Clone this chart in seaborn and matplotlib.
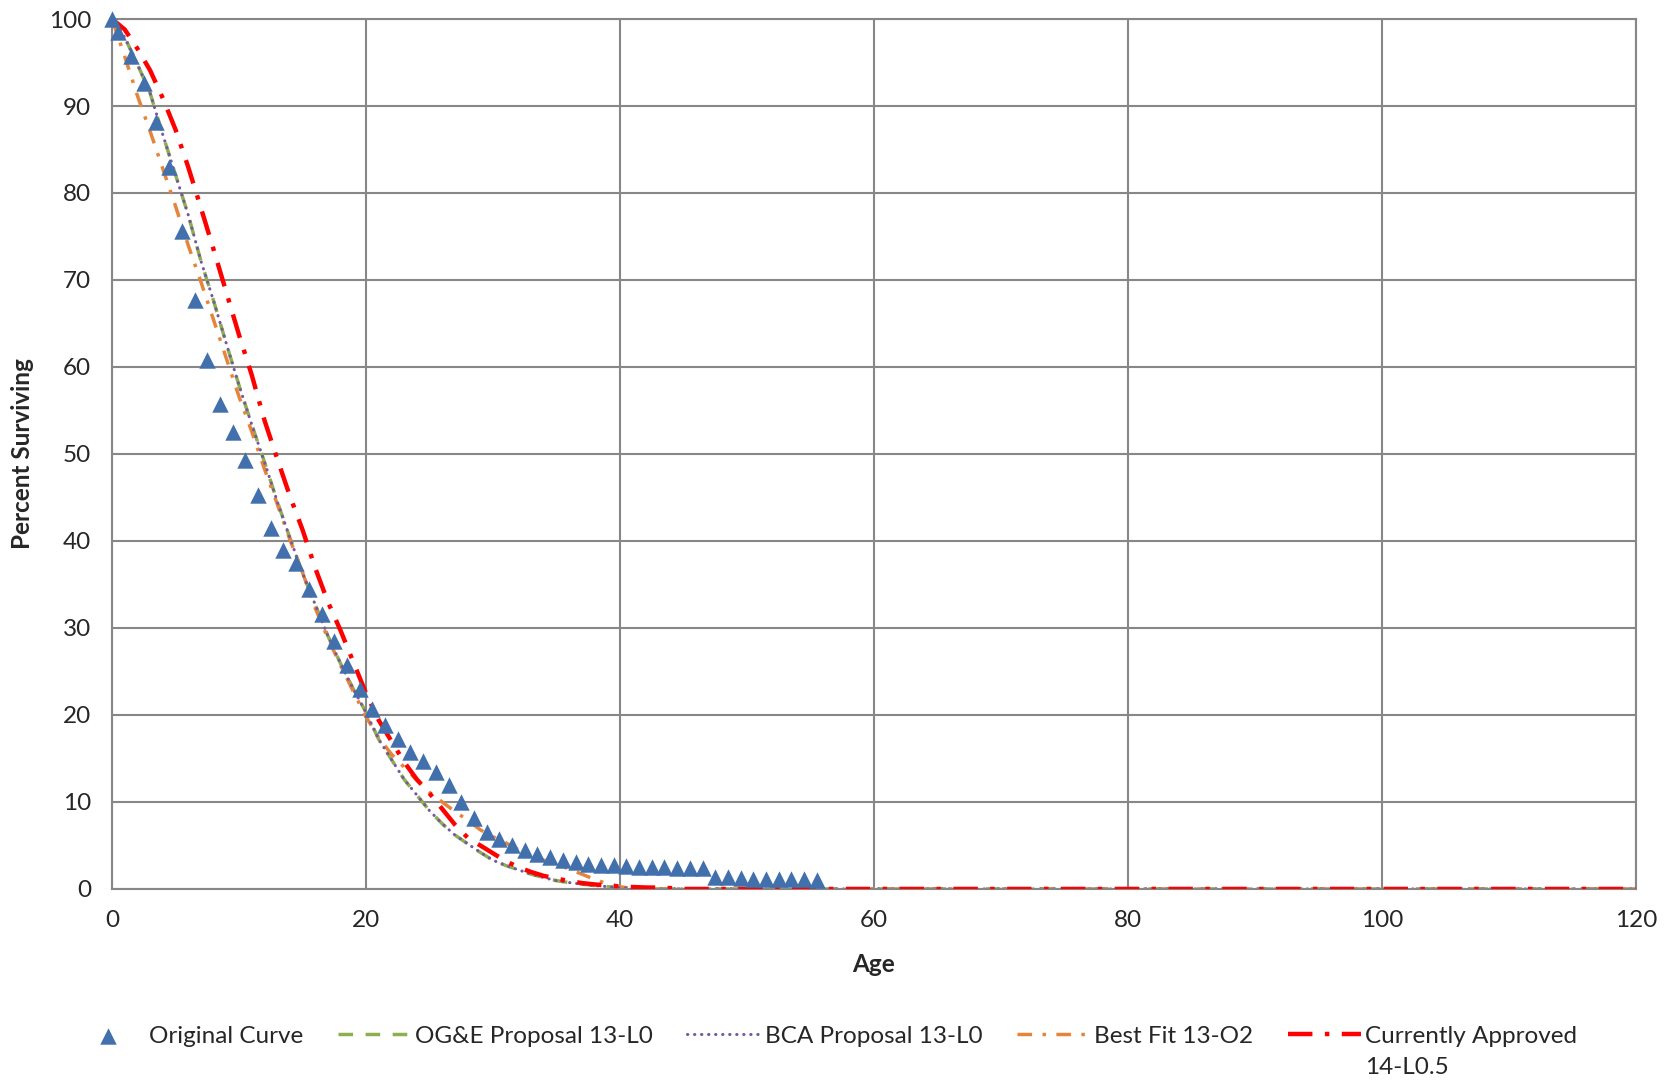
import numpy as np
import matplotlib
matplotlib.use("Agg")
import matplotlib.pyplot as plt
import seaborn as sns

# ---- data ----
# observed (original) survivor curve, ages 0, 0.5, 1.5, ... 55.5
orig_ages = np.concatenate([[0], np.arange(0.5, 56, 1.0)])
orig_pct = [100, 98.5, 95.8, 92.7, 88.2, 83.0, 75.6, 67.7, 60.8, 55.7,
            52.5, 49.3, 45.3, 41.5, 39.0, 37.5, 34.5, 31.6, 28.5, 25.7,
            23.0, 20.7, 18.8, 17.2, 15.7, 14.7, 13.4, 11.9, 10.0, 8.2,
            6.6, 5.7, 5.1, 4.5, 4.0, 3.7, 3.3, 3.1, 2.9, 2.8,
            2.75, 2.6, 2.55, 2.5, 2.5, 2.45, 2.45, 2.4, 1.35, 1.33,
            1.3, 1.2, 1.2, 1.15, 1.1, 1.1, 1.03]

# fitted Iowa curves, ages 0..45 then flat to 120
curve_ages = list(range(46)) + [120]
oge_13l0 = [100, 97.9, 94.8, 91.5, 86.7, 82.1, 77.5, 72.2, 67.6, 62.7,
            57.9, 53.4, 49.1, 44.6, 40.4, 36.3, 32.7, 29.1, 25.9, 23.0,
            20.3, 17.2, 14.9, 12.6, 10.8, 9.0, 7.5, 6.2, 5.2, 4.2,
            3.3, 2.7, 2.2, 1.7, 1.3, 0.95, 0.73, 0.55, 0.4, 0.26,
            0.15, 0.08, 0.03, 0, 0, 0, 0]
bca_13l0 = list(oge_13l0)  # same curve (13-L0)
bestfit_13o2 = [100, 95.7, 91.2, 87.1, 82.8, 78.5, 74.0, 69.8, 65.4, 61.0,
                56.6, 52.6, 48.3, 44.3, 40.2, 36.4, 32.3, 28.8, 25.7, 22.7,
                19.8, 17.4, 15.5, 14.0, 12.5, 11.1, 10.0, 8.9, 7.9, 6.8,
                6.0, 5.3, 4.5, 3.85, 3.3, 2.8, 2.3, 1.7, 1.1, 0.6,
                0.25, 0.05, 0, 0, 0, 0, 0]
approved_14l05 = [100, 98.8, 96.6, 94.1, 90.9, 87.3, 83.0, 78.3, 73.5, 68.6,
                  63.7, 59.1, 53.9, 49.5, 45.2, 41.3, 36.9, 33.0, 29.7, 26.1,
                  22.5, 19.4, 17.0, 14.6, 12.6, 11.0, 9.2, 7.4, 5.9, 5.0,
                  4.1, 3.2, 2.5, 1.95, 1.5, 1.2, 0.9, 0.68, 0.52, 0.4,
                  0.3, 0.22, 0.17, 0.15, 0.1, 0, 0]

x_ticks = [0, 20, 40, 60, 80, 100, 120]
y_ticks = [0, 10, 20, 30, 40, 50, 60, 70, 80, 90, 100]

sns.set_style("white")
plt.rcParams['font.family'] = ['Lato', 'DejaVu Sans']

GRID = '#878787'
FS = 17.5

fig = plt.figure(figsize=(16.69, 10.80), dpi=100)
ax = fig.add_axes([0.0671, 0.1769, 0.9131, 0.8055])

# label, values, colour, dash pattern, width, cap, zorder
series = [
    ("OG&E Proposal 13-L0", oge_13l0, "#8DB04E", (0, (4.2, 3.6)), 2.5, 'butt', 2.0),
    ("BCA Proposal 13-L0", bca_13l0, "#7558A0", (0, (0.1, 2.2)), 2.2, 'round', 2.4),
    ("Best Fit 13-O2", bestfit_13o2, "#E6843C", (0, (4.2, 3.0, 1, 3.0)), 2.5, 'butt', 2.2),
    ("Currently Approved", approved_14l05, "#FF0000", (0, (5.5, 2.8, 1, 2.8)), 3.2, 'butt', 2.6),
]

handles = []
for label, vals, color, ls, lw, cap, z in series:
    sns.lineplot(x=curve_ages, y=vals, ax=ax, color=color, linewidth=lw,
                 linestyle=ls, dash_capstyle=cap, sort=False, estimator=None,
                 legend=False, zorder=z)
    line = ax.lines[-1]
    line.set_label(label)
    handles.append(line)

sns.scatterplot(x=orig_ages, y=orig_pct, ax=ax, marker='^', s=140,
                color='#4270AC', linewidth=0, legend=False, zorder=3,
                clip_on=False)
pts = ax.collections[-1]
pts.set_label("Original Curve")
handles.insert(0, pts)

ax.set_xlim(0, 120)
ax.set_ylim(0, 100)
ax.set_xticks(x_ticks)
ax.set_yticks(y_ticks)
ax.grid(True, color=GRID, linewidth=1.5)
ax.set_axisbelow(True)
for sp in ax.spines.values():
    sp.set_color(GRID)
    sp.set_linewidth(1.5)
ax.tick_params(length=0, labelsize=FS, pad=15)
ax.set_xlabel('Age', fontsize=FS, fontweight='bold', labelpad=16)
ax.set_ylabel('Percent Surviving', fontsize=FS, fontweight='bold', labelpad=11)

leg = fig.legend(handles, [h.get_label() for h in handles], loc='center',
                 bbox_to_anchor=(0.494, 1 - 1036 / 1080), ncol=5, frameon=False,
                 fontsize=FS, handlelength=3.0, handletextpad=0.2,
                 columnspacing=1.4)

# second line of the last legend label sits under its first line
fig.canvas.draw()
bb = leg.get_texts()[-1].get_window_extent()
inv = fig.transFigure.inverted()
x0, yc = inv.transform((bb.x0, (bb.y0 + bb.y1) / 2 - 31))
fig.text(x0, yc, '14-L0.5', fontsize=FS, ha='left', va='center')

fig.savefig('out.png', dpi=100)
